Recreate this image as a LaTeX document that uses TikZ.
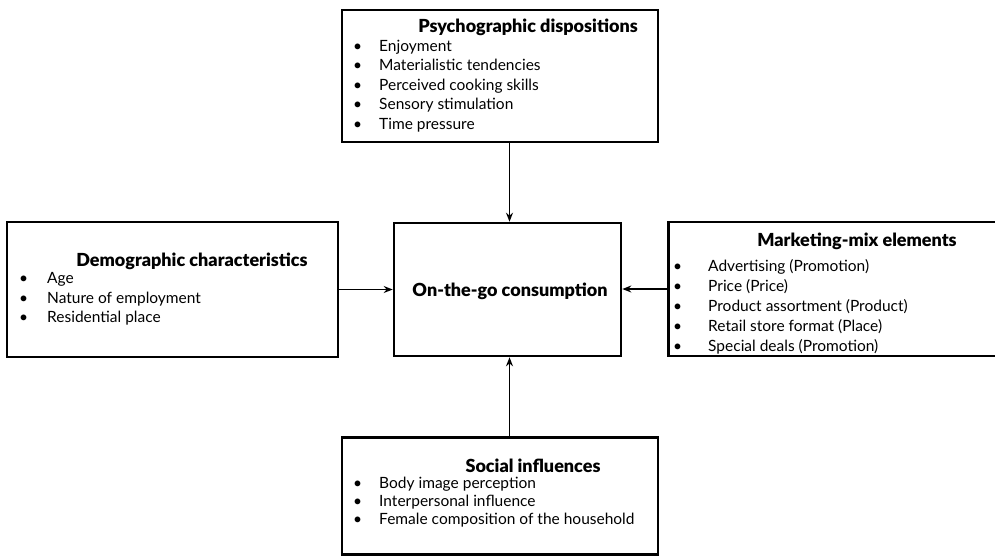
\documentclass[tikz,border=0pt]{standalone}
\usepackage{fontspec}
\setmainfont{Lato}[BoldFont={Lato Black}]
\usetikzlibrary{arrows.meta}
\tikzset{
  boxnode/.style={draw, line width=2.6pt, inner sep=0pt},
  titlenode/.style={font=\fontsize{18}{20}\selectfont\bfseries, inner sep=0pt, anchor=center},
  listnode/.style={inner sep=0pt, anchor=north west, align=left},
  conn/.style={line width=1.8pt, -{Stealth[length=9pt,width=7pt]}},
}
\newcommand{\bul}[2]{\makebox[#1][l]{\hspace{1pt}\textbullet}#2}
\begin{document}
\begin{tikzpicture}[x=1pt,y=-1pt]
\useasboundingbox (0,0) rectangle (995,557);
% boxes
\node[boxnode, minimum width=316pt, minimum height=132pt] (psy) at (500,76) {};
\node[boxnode, minimum width=331pt, minimum height=135pt] (dem) at (172.5,289.5) {};
\node[boxnode, minimum width=227pt, minimum height=133pt] (ctr) at (507.5,289.5) {};
\node[boxnode, minimum width=340pt, minimum height=134pt, anchor=west] (mkt) at (667,289) {};
\node[boxnode, minimum width=316pt, minimum height=117pt] (soc) at (500,496) {};
% titles
\node[titlenode] (psyt) at (528,27) {Psychographic dispositions};
\node[titlenode] (demt) at (192,261) {Demographic characteristics};
\node[titlenode] (mktt) at (857,241) {Marketing-mix elements};
\node[titlenode] (soct) at (533,466) {Social influences};
\node[titlenode] (ctrt) at (510,291) {On-the-go consumption};
% lists
\node[listnode, font=\fontsize{15.5}{19.5}\selectfont] (psyl) at (352,39.5) {\bul{27pt}{Enjoyment}\\\bul{27pt}{Materialistic tendencies}\\\bul{27pt}{Perceived cooking skills}\\\bul{27pt}{Sensory stimulation}\\\bul{27pt}{Time pressure}};
\node[listnode, font=\fontsize{15.5}{19.5}\selectfont] (deml) at (18,272.5) {\bul{29pt}{Age}\\\bul{29pt}{Nature of employment}\\\bul{29pt}{Residential place}};
\node[listnode, font=\fontsize{15.5}{20}\selectfont] (mktl) at (672,259.5) {\bul{36pt}{Advertising (Promotion)}\\\bul{36pt}{Price (Price)}\\\bul{36pt}{Product assortment (Product)}\\\bul{36pt}{Retail store format (Place)}\\\bul{36pt}{Special deals (Promotion)}};
\node[listnode, font=\fontsize{15.5}{18}\selectfont] (socl) at (352,476.5) {\bul{27pt}{Body image perception}\\\bul{27pt}{Interpersonal influence}\\\bul{27pt}{Female composition of the household}};
% connectors
\draw[conn] (psy.south -| ctr.north) ++(2,0) coordinate (pa) -- (pa |- ctr.north);
\draw[conn] (dem.east) -- (dem.east -| ctr.west);
\draw[conn] (mkt.west) -- (mkt.west -| ctr.east);
\draw[conn] (soc.north -| ctr.south) ++(2,0) coordinate (sa) -- (sa |- ctr.south);
\end{tikzpicture}
\end{document}
